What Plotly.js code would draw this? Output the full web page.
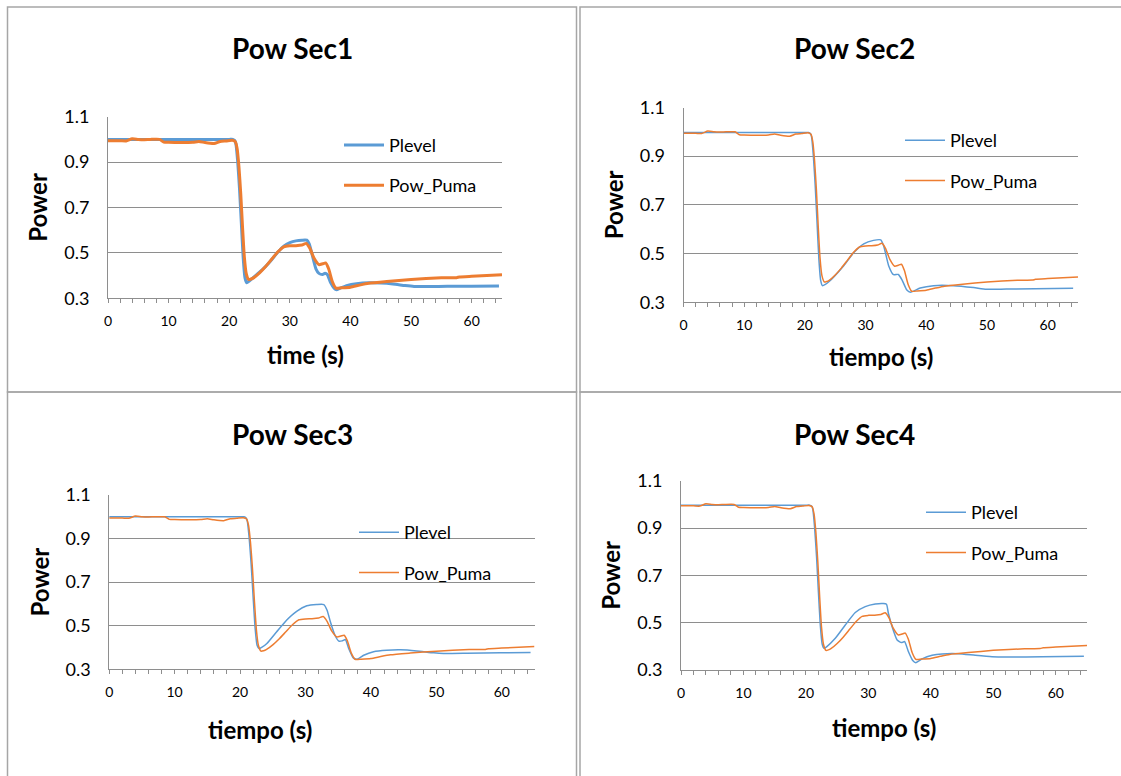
<!DOCTYPE html>
<html>
<head>
<meta charset="utf-8">
<script src="https://cdn.plot.ly/plotly-3.0.1.min.js"></script>
<style>html,body{margin:0;padding:0;background:#fff;}#chart{width:1121px;height:776px;}</style>
</head>
<body>
<div id="chart"></div>
<script>
// ---------- data ----------
const titles = ["Pow Sec1", "Pow Sec2", "Pow Sec3", "Pow Sec4"];
const xTitles = ["time (s)", "tiempo (s)", "tiempo (s)", "tiempo (s)"];
const yTitle = "Power";
const seriesNames = ["Plevel", "Pow_Puma"];
const yTickVals = [0.3, 0.5, 0.7, 0.9, 1.1];
const xTickVals = [0, 10, 20, 30, 40, 50, 60];

// Pow_Puma (same measured trace in every panel)
const tPuma = [0, 2, 3, 4, 5, 6, 7, 8.5, 9.2, 10, 12, 14, 15, 16, 17.5, 18.5, 19.5, 20.5, 21.0, 21.3, 21.6, 21.9, 22.2, 22.5, 22.8, 23.2, 23.6, 24, 25, 26, 27, 28, 29, 30, 31, 32, 32.7, 33.3, 34, 34.8, 35.4, 35.9, 36.4, 37, 37.6, 38.5, 40, 41.5, 43, 46, 50, 55, 57.5, 58, 60, 65];
const puma  = [0.994, 0.994, 0.993, 1.003, 1.0, 0.999, 1.0, 1.0, 0.988, 0.987, 0.986, 0.987, 0.991, 0.986, 0.982, 0.991, 0.993, 0.996, 0.99, 0.96, 0.88, 0.76, 0.61, 0.48, 0.41, 0.383, 0.385, 0.39, 0.412, 0.44, 0.472, 0.504, 0.527, 0.531, 0.532, 0.535, 0.542, 0.52, 0.476, 0.448, 0.452, 0.456, 0.43, 0.374, 0.345, 0.346, 0.349, 0.358, 0.366, 0.374, 0.383, 0.39, 0.391, 0.394, 0.397, 0.404];

// Plevel, panel 1
const tLev1 = [0, 5, 10, 15, 20, 20.6, 20.9, 21.1, 21.4, 21.7, 22.0, 22.3, 22.6, 22.9, 23.3, 24, 25, 26, 27, 28, 29, 30, 31, 32, 32.8, 33.2, 33.7, 34.3, 34.8, 35.4, 35.8, 36.2, 36.7, 37.3, 37.7, 38.3, 39.5, 41, 43, 45, 47, 49, 50.5, 53, 56, 60, 64.5];
const lev1  = [1.0, 1.0, 1.0, 1.0, 1.0, 1.0, 0.995, 0.98, 0.9, 0.78, 0.63, 0.48, 0.39, 0.368, 0.376, 0.392, 0.415, 0.44, 0.47, 0.503, 0.53, 0.545, 0.553, 0.556, 0.556, 0.54, 0.49, 0.43, 0.41, 0.405, 0.41, 0.404, 0.37, 0.345, 0.338, 0.345, 0.357, 0.364, 0.368, 0.367, 0.363, 0.356, 0.352, 0.352, 0.353, 0.353, 0.354];

// Plevel, panel 2
const tLev2 = [0, 5, 10, 15, 20, 20.6, 20.9, 21.1, 21.4, 21.7, 22.0, 22.3, 22.6, 22.9, 23.3, 24, 24.8, 26.4, 28.1, 29.7, 31.3, 32.5, 33.0, 33.8, 34.6, 35.4, 36.0, 36.8, 37.4, 39, 41.2, 44.5, 47.8, 49.9, 53.2, 64.2];
const lev2  = [0.997, 0.997, 0.997, 0.997, 0.997, 0.997, 0.993, 0.98, 0.9, 0.78, 0.63, 0.48, 0.39, 0.368, 0.372, 0.385, 0.405, 0.45, 0.505, 0.54, 0.554, 0.556, 0.53, 0.45, 0.413, 0.414, 0.392, 0.35, 0.341, 0.358, 0.368, 0.368, 0.36, 0.353, 0.354, 0.357];

// Plevel, panel 3
const tLev3 = [0, 5, 10, 15, 20, 20.6, 20.9, 21.1, 21.4, 21.7, 22.0, 22.3, 22.6, 22.9, 23.3, 24.1, 25.6, 27.1, 28.7, 30.2, 31.7, 32.8, 33.3, 33.8, 34.5, 35.1, 35.6, 36.1, 36.6, 37.3, 37.9, 38.9, 40.4, 42.4, 44.5, 47, 49.6, 51.1, 54.7, 59.8, 64.4];
const lev3  = [1.0, 1.0, 1.0, 1.0, 1.0, 1.0, 0.995, 0.98, 0.9, 0.78, 0.63, 0.49, 0.41, 0.395, 0.4, 0.418, 0.472, 0.525, 0.567, 0.591, 0.597, 0.597, 0.571, 0.518, 0.456, 0.429, 0.43, 0.436, 0.395, 0.352, 0.346, 0.364, 0.38, 0.387, 0.389, 0.384, 0.375, 0.372, 0.373, 0.375, 0.377];

// Plevel, panel 4
const tLev4 = [0, 5, 10, 15, 20, 20.6, 20.9, 21.1, 21.4, 21.7, 22.0, 22.3, 22.6, 22.9, 23.3, 24.7, 26.3, 27.9, 29.5, 31.1, 32.4, 32.9, 33.2, 33.8, 34.6, 35.3, 35.8, 36.4, 37.1, 37.6, 38.6, 40.2, 41.8, 44.4, 47.1, 49.8, 52.5, 57.8, 64.5];
const lev4  = [0.997, 0.997, 0.997, 0.997, 0.997, 0.997, 0.993, 0.98, 0.9, 0.78, 0.63, 0.49, 0.41, 0.392, 0.398, 0.434, 0.49, 0.543, 0.568, 0.579, 0.581, 0.578, 0.54, 0.483, 0.427, 0.416, 0.42, 0.378, 0.34, 0.331, 0.347, 0.362, 0.368, 0.369, 0.362, 0.356, 0.355, 0.356, 0.358];

// ---------- layout helpers ----------
const W = 1121, H = 776;
const fx = v => v / W;
const fy = v => 1 - v / H;
const FONT = "Lato, 'Open Sans', sans-serif";
const BLUE = "#5B9BD5", ORANGE = "#ED7D31";
const GRID = "#8e8e8e";

const levT = [tLev1, tLev2, tLev3, tLev4];
const levV = [lev1, lev2, lev3, lev4];
const lineW = [3, 1.5, 1.5, 1.5];

// plot boxes in pixels: [left, right, top, bottom]
const boxes = [
  [108, 502, 116.7, 298.3],
  [683.5, 1078, 107.5, 302.2],
  [109.2, 534.5, 495, 669.2],
  [681, 1087, 480.8, 670]
];
// legend text start x and first row y (pixels)
const legPos = [[384, 142.7], [945, 138], [399, 530], [966, 510]];
const titlePos = [[292, 48], [854, 48], [292, 434], [854.5, 434]];
const xTitlePos = [[305, 355], [881, 357], [260, 729], [884, 727]];

const traces = [];
const layout = {
  width: W, height: H, autosize: false,
  margin: {l: 0, r: 0, t: 0, b: 0},
  paper_bgcolor: "#ffffff", plot_bgcolor: "#ffffff",
  font: {family: FONT, color: "#000"},
  shapes: [], annotations: []
};

for (let i = 0; i < 4; i++) {
  const sfx = i === 0 ? "" : String(i + 1);
  const legName = "legend" + sfx;
  const b = boxes[i];
  traces.push({
    x: levT[i], y: levV[i], type: "scatter", mode: "lines", name: seriesNames[0],
    line: {color: BLUE, width: lineW[i], shape: "spline", smoothing: 0.5},
    xaxis: "x" + sfx, yaxis: "y" + sfx, legend: legName, legendgroup: "a" + i
  });
  traces.push({
    x: tPuma, y: puma, type: "scatter", mode: "lines", name: seriesNames[1],
    line: {color: ORANGE, width: lineW[i], shape: "spline", smoothing: 0.5},
    xaxis: "x" + sfx, yaxis: "y" + sfx, legend: legName, legendgroup: "b" + i
  });
  layout["xaxis" + sfx] = {
    domain: [fx(b[0]), fx(b[1])], anchor: "y" + sfx, range: [0, 65],
    tickvals: xTickVals, ticks: "outside", ticklen: 4, tickcolor: GRID, tickwidth: 1,
    minor: {dtick: 2, tick0: 0, ticks: "outside", ticklen: 4, tickcolor: GRID, tickwidth: 1, showgrid: false},
    showgrid: false, zeroline: false, showline: true, linecolor: GRID, linewidth: 1,
    tickfont: {family: FONT, size: 14, color: "#000"}, ticklabelstandoff: 6, fixedrange: true
  };
  layout["yaxis" + sfx] = {
    domain: [fy(b[3]), fy(b[2])], anchor: "x" + sfx, range: [0.3, 1.1],
    tickvals: yTickVals, tickformat: ".1f", ticks: "",
    showgrid: true, gridcolor: GRID, gridwidth: 1, zeroline: false,
    showline: true, linecolor: GRID, linewidth: 1,
    tickfont: {family: FONT, size: 18, color: "#000"}, ticklabelstandoff: 14,
    title: {text: yTitle, font: {family: FONT, size: 24, color: "#000", weight: "bold"}, standoff: 9},
    fixedrange: true
  };
  layout[legName] = {
    x: fx(legPos[i][0] - 45), y: fy(legPos[i][1] - 16), xanchor: "left", yanchor: "top",
    xref: "paper", yref: "paper", bgcolor: "rgba(0,0,0,0)", borderwidth: 0,
    font: {family: FONT, size: 18, color: "#000"}, traceorder: "grouped", tracegroupgap: 14,
    itemwidth: 40
  };
  layout.annotations.push({
    text: titles[i], xref: "paper", yref: "paper", x: fx(titlePos[i][0]), y: fy(titlePos[i][1]),
    xanchor: "center", yanchor: "middle", showarrow: false,
    font: {family: FONT, size: 28, color: "#000", weight: "bold"}
  });
  layout.annotations.push({
    text: xTitles[i], xref: "paper", yref: "paper", x: fx(xTitlePos[i][0]), y: fy(xTitlePos[i][1]),
    xanchor: "center", yanchor: "middle", showarrow: false,
    font: {family: FONT, size: 24, color: "#000", weight: "bold"}
  });
}

// panel frames
const frames = [[7.5, 7, 576.5, 392], [580, 7, 1130, 392], [7.5, 392, 576.5, 790], [580, 392, 1130, 790]];
frames.forEach(f => layout.shapes.push({
  type: "rect", xref: "paper", yref: "paper",
  x0: fx(f[0]), x1: fx(f[2]), y0: fy(f[1]), y1: fy(f[3]),
  line: {color: "#a6a6a6", width: 1.5}, fillcolor: "rgba(0,0,0,0)", layer: "below"
}));

Plotly.newPlot("chart", traces, layout, {displayModeBar: false, staticPlot: true});
</script>
</body>
</html>
